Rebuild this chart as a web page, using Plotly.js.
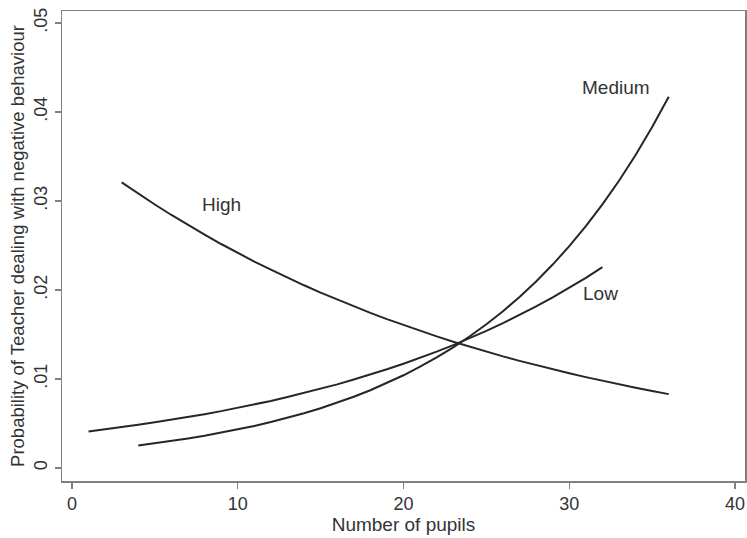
<!DOCTYPE html>
<html><head><meta charset="utf-8">
<script src="https://cdn.plot.ly/plotly-3.0.1.min.js"></script>
<style>html,body{margin:0;padding:0;background:#fff}#chart{width:747px;height:538px}</style>
</head><body><div id="chart"></div>
<script>
// Number of pupils (x) for each curve
const xHigh = [3,4,5,6,7,8,9,10,11,12,13,14,15,16,17,18,19,20,21,22,23,24,25,26,27,28,29,30,31,32,33,34,35,36];
const yHigh = [0.03210,0.03083,0.02961,0.02843,0.02730,0.02622,0.02517,0.02417,0.02320,0.02228,0.02138,0.02053,0.01971,0.01892,0.01816,0.01743,0.01673,0.01606,0.01541,0.01479,0.01419,0.01362,0.01307,0.01254,0.01204,0.01155,0.01108,0.01064,0.01021,0.00979,0.00940,0.00902,0.00865,0.00830];

const xMedium = [4,5,6,7,8,9,10,11,12,13,14,15,16,17,18,19,20,21,22,23,24,25,26,27,28,29,30,31,32,33,34,35,36];
const yMedium = [0.00254,0.00278,0.00304,0.00332,0.00362,0.00396,0.00432,0.00472,0.00516,0.00563,0.00615,0.00672,0.00733,0.00801,0.00874,0.00955,0.01042,0.01138,0.01242,0.01356,0.01480,0.01615,0.01762,0.01922,0.02096,0.02286,0.02493,0.02718,0.02963,0.03228,0.03517,0.03831,0.04171];

const xLow = [1,2,3,4,5,6,7,8,9,10,11,12,13,14,15,16,17,18,19,20,21,22,23,24,25,26,27,28,29,30,31,32];
const yLow = [0.00411,0.00434,0.00459,0.00485,0.00513,0.00542,0.00573,0.00605,0.00639,0.00676,0.00714,0.00754,0.00797,0.00842,0.00890,0.00940,0.00994,0.01050,0.01109,0.01172,0.01238,0.01307,0.01381,0.01459,0.01541,0.01627,0.01719,0.01815,0.01917,0.02024,0.02137,0.02257];

const xTickVals = [0,10,20,30,40];
const xTickText = ["0","10","20","30","40"];
const yTickVals = [0,0.01,0.02,0.03,0.04,0.05];
const yTickText = ["0",".01",".02",".03",".04",".05"];

const curveNames = ["High","Medium","Low"];
const labelX = [9.0, 32.8, 31.9];
const labelY = [0.0296, 0.0427, 0.0196];

const lineStyle = {color:'#262626', width:2};
const traces = [
  {x:xHigh, y:yHigh, name:curveNames[0], mode:'lines', line:lineStyle, hoverinfo:'none'},
  {x:xMedium, y:yMedium, name:curveNames[1], mode:'lines', line:lineStyle, hoverinfo:'none'},
  {x:xLow, y:yLow, name:curveNames[2], mode:'lines', line:lineStyle, hoverinfo:'none'}
];

const fontF = 'Liberation Sans, Arial, sans-serif';
const annotations = curveNames.map((n,i)=>({
  x:labelX[i], y:labelY[i], xref:'x', yref:'y', text:n, showarrow:false,
  font:{family:fontF, size:19, color:'#333'}
}));

const layout = {
  width:747, height:538,
  margin:{l:62, r:2, t:11, b:57},
  paper_bgcolor:'#fff', plot_bgcolor:'#fff',
  showlegend:false,
  font:{family:fontF, size:18, color:'#333'},
  xaxis:{
    range:[-0.6,40.6], tickmode:'array', tickvals:xTickVals, ticktext:xTickText,
    showgrid:false, zeroline:false, showline:true, mirror:true, linecolor:'#808080', linewidth:1.5,
    ticks:'outside', ticklen:6, tickcolor:'#808080', tickwidth:1.5,
    tickfont:{family:fontF, size:18, color:'#333'},
    title:{text:'Number of pupils', font:{family:fontF, size:19, color:'#333'}, standoff:2}
  },
  yaxis:{
    range:[-0.00146,0.05135], tickmode:'array', tickvals:yTickVals, ticktext:yTickText,
    tickangle:-90,
    showgrid:false, zeroline:false, showline:true, mirror:true, linecolor:'#808080', linewidth:1.5,
    ticks:'outside', ticklen:6, tickcolor:'#808080', tickwidth:1.5,
    tickfont:{family:fontF, size:18, color:'#333'},
    title:{text:'Probability of Teacher dealing with negative behaviour', font:{family:fontF, size:18.5, color:'#333'}, standoff:2}
  },
  annotations:annotations
};
Plotly.newPlot('chart', traces, layout, {staticPlot:true, displayModeBar:false});
</script></body></html>
